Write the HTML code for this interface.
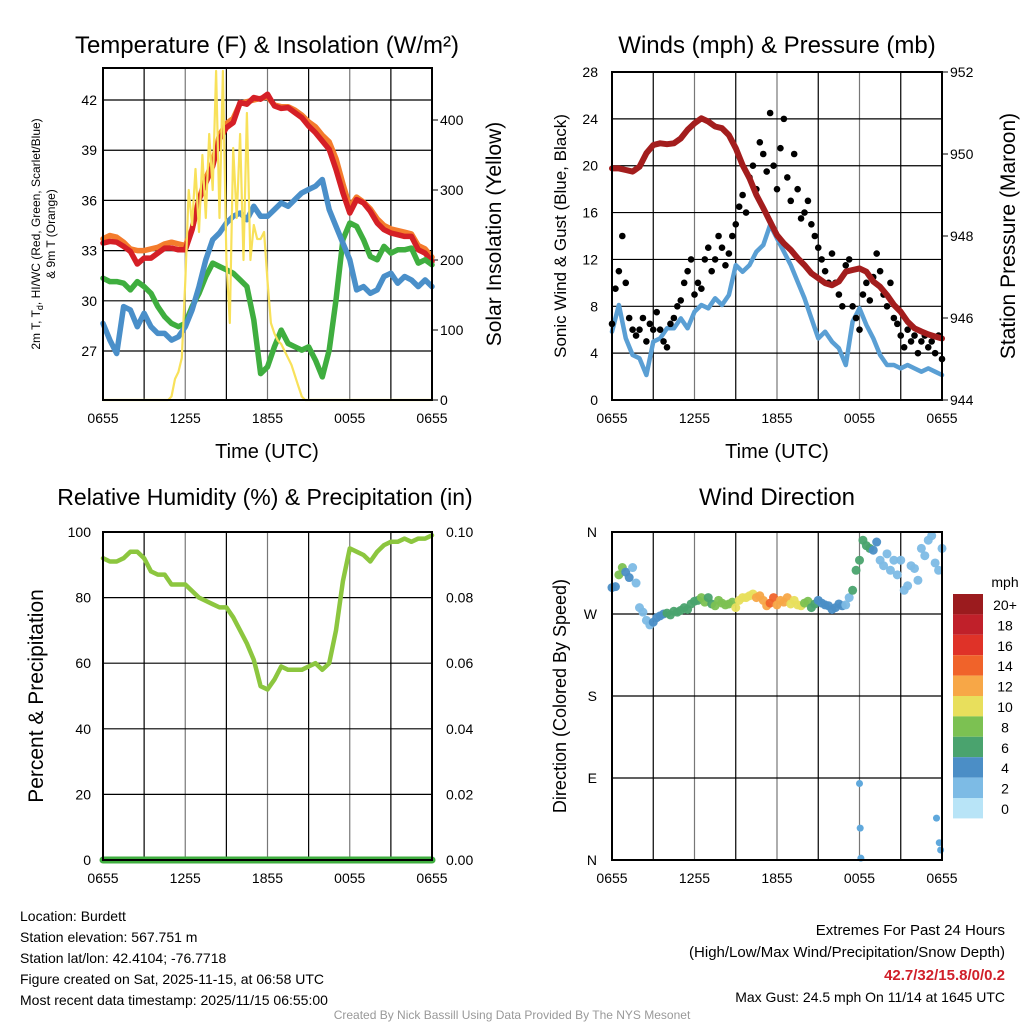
<!DOCTYPE html>
<html><head><meta charset="utf-8"><style>
body{margin:0;background:#fff;}
svg{display:block;font-family:"Liberation Sans",Arial,sans-serif;}
</style></head><body>
<svg id="c" width="1024" height="1024" viewBox="0 0 1024 1024" xmlns="http://www.w3.org/2000/svg"></svg>
<script>
const tickLabels = ['0655','1255','1855','0055','0655'];
const tempRed = [33.45,33.55,33.5,33.25,32.95,32.2,32.55,32.55,32.85,33.15,33.15,33.05,33.05,34.25,36.05,37.05,38.05,39.65,40.35,40.65,41.85,41.75,42.15,42.05,42.35,41.65,41.5,41.55,41.25,40.95,40.45,40.05,39.55,39.05,37.85,36.45,35.25,36.05,35.85,35.35,34.65,34.25,34.05,33.95,33.85,33.85,33.05,32.85,32.35];
const tempOrange = [33.7,33.9,33.8,33.5,33.1,33.0,33.0,33.1,33.2,33.4,33.5,33.4,33.3,34.3,36.1,37.3,38.3,39.9,40.6,40.9,41.8,41.9,42.0,42.1,42.2,41.7,41.6,41.6,41.4,41.1,40.7,40.4,39.9,39.5,38.5,37.0,35.6,36.2,35.9,35.5,34.9,34.5,34.3,34.2,34.1,34.0,33.3,33.1,32.6];
const dewGreen = [31.35,31.15,31.15,31.05,30.65,31.15,30.85,30.45,29.65,29.05,28.65,28.45,28.65,29.65,30.45,31.45,32.25,32.05,31.85,31.65,31.25,30.85,28.85,25.65,26.05,27.25,28.25,27.45,27.25,27.05,27.25,26.45,25.45,27.05,30.05,33.65,34.65,34.45,33.65,32.65,32.45,33.25,32.85,33.05,33.05,33.15,32.25,32.45,32.15];
const chillBlue = [28.65,27.65,26.85,29.65,29.45,28.45,29.25,28.45,28.05,28.05,27.65,27.85,28.45,29.45,30.85,32.45,33.65,34.05,34.65,35.05,35.25,34.85,35.65,35.05,35.05,35.45,35.85,35.65,36.05,36.45,36.65,36.85,37.25,35.45,34.45,33.45,32.45,30.65,30.85,30.45,30.65,31.45,31.65,31.05,31.45,31.25,30.85,31.25,30.85];
const solar = [0,0,0,0,0,0,0,0,0,0,0,0,0,0,0,0,0,0,0,0,5,30,40,60,170,300,250,330,240,350,260,380,300,470,260,470,200,110,360,260,380,200,410,200,250,230,230,240,170,110,95,85,80,70,60,50,35,20,5,0,0,0,0,0,0,0,0,0,0,0,0,0,0,0,0,0,0,0,0,0,0,0,0,0,0,0,0,0,0,0,0,0,0,0,0,0,0];
const pressure = [949.65,949.65,949.61,949.57,949.69,950.02,950.22,950.26,950.24,950.26,950.38,950.59,950.75,950.87,950.79,950.67,950.63,950.46,950.14,949.73,949.41,949.0,948.68,948.35,948.02,947.82,947.66,947.46,947.29,947.09,946.97,946.85,946.8,946.89,947.13,947.17,947.21,947.13,946.89,946.76,946.56,946.32,946.15,945.91,945.75,945.67,945.6,945.55,945.5];
const windSpd = [5.83,8.11,5.26,3.84,3.56,2.13,4.98,5.26,6.12,6.12,6.97,6.12,7.54,8.11,7.83,8.68,8.11,8.96,11.52,10.95,11.52,12.66,13.23,14.94,13.8,12.66,11.52,10.1,8.68,6.97,5.26,5.83,4.98,4.41,2.99,6.69,7.83,6.4,5.26,3.84,2.99,2.99,2.7,2.99,2.7,2.42,2.7,2.42,2.13];
const gust = [6.5,9.5,11,14,10,7,6,5.5,6,7,5,6.5,6,7.5,6,5,4.5,6.5,7,8,8.5,10,11,12,9,10,9.5,12,13,11,12,14,13,11.5,12.5,14,15,16.5,17.5,16,19,20,18,22,21,19.5,24.5,20,18,21.5,24,19,17,21,18,15.5,16,17,15,14,13,12,11,10,12.5,10,9,8,11.5,12,8,7,6,9,10,8.5,10.5,12.5,11,9,8,10,7,6.5,5.5,4.5,6,5,5.5,4,5,5.5,4.5,5,4,5.5,3.5];
const windDir = [299,300,313,321,316,310,321,304,277,272,263,258,261,266,268,270,271,269,273,272,274,277,275,281,284,285,288,283,288,281,279,285,282,280,281,283,277,285,288,288,290,292,288,290,285,279,282,288,280,285,283,288,281,285,280,279,282,284,277,281,285,282,280,279,275,277,281,279,280,288,296,318,329,351,345,342,340,349,329,323,336,318,329,313,329,296,301,323,320,307,342,334,351,356,326,318,342];
const extraHour = [18.0,18.05,18.1,23.6,23.8,23.9];
const extraDir = [84,35,2,46,19,11];
const rh = [92,91,91,92,94,94,92,88,87,87,84,84,84,82,80,79,78,77,77,74,70,66,61,53,52,55,59,58,58,58,59,60,58,60,70,85,95,94,93,91,94,96,97,97,98,97,98,98,99];
const precip = [0,0,0,0,0,0,0,0,0,0,0,0,0,0,0,0,0,0,0,0,0,0,0,0,0];
const tempTicks=[27,30,33,36,39,42], solarTicks=[0,100,200,300,400];
const windTicks=[0,4,8,12,16,20,24,28], presTicks=[944,946,948,950,952];
const rhTicks=[0,20,40,60,80,100], prTicks=['0.00','0.02','0.04','0.06','0.08','0.10'];
const dirLabels=['N','W','S','E','N'];
const cbLabels=['20+','18','16','14','12','10','8','6','4','2','0'];
const cbColors=['#9b1b1e','#c0202a','#df3228','#f0632a','#f7a747','#e8df5c','#7cc152','#4aa36e','#4b8ec6','#7dbbe5','#b8e4f7'];

const svg=document.getElementById('c');
const NS='http://www.w3.org/2000/svg';
function el(tag,attrs,parent){const e=document.createElementNS(NS,tag);for(const k in attrs)e.setAttribute(k,attrs[k]);(parent||svg).appendChild(e);return e;}
function txt(s,x,y,size,anchor,parent,extra){const t=el('text',Object.assign({x:x,y:y,'font-size':size,'text-anchor':anchor||'middle',fill:'#000'},extra||{}),parent);t.textContent=s;return t;}

function panel(name,x0,y0,x1,y1){
  const g=el('g',{});
  
  
  const P={g,x0,y0,x1,y1,
    x:h=>x0+(x1-x0)*h/24};
  for(let h=3;h<24;h+=3){const l=el('line',{x1:P.x(h),x2:P.x(h),y1:y0,y2:y1,stroke:(h%6==0)?'#777':'#000','stroke-width':1.2},g);
    }
  for(let i=0;i<5;i++){const t=txt(tickLabels[i],P.x(i*6),y1+23,14,'middle',g);
    }
  return P;
}
function hgrid(P,y){const l=el('line',{x1:P.x0,x2:P.x1,y1:y,y2:y,stroke:'#000','stroke-width':1.2},P.g);
  }
function frame(P){const r=el('rect',{x:P.x0,y:P.y0,width:P.x1-P.x0,height:P.y1-P.y0,fill:'none',stroke:'#000','stroke-width':2},P.g);
  }
function line(P,arr,step,yf,color,w,name){
  let d='';arr.forEach((v,i)=>{d+=(i?'L':'M')+P.x(i*step).toFixed(1)+','+yf(v).toFixed(1);});
  const p=el('path',{d:d,fill:'none',stroke:color,'stroke-width':w,'stroke-linejoin':'round','stroke-linecap':'round'},P.g);
  return p;}
function rot(s,x,y,size,parent,name){const t=txt(s,x,y,size,'middle',parent,{transform:`rotate(-90 ${x} ${y})`});
  return t;}
function title(s,x,y,name,size){const t=txt(s,x,y,size||24,'middle');return t;}

// ---------- Panel 1
const P1=panel('temperature-panel',103,68,432,400);
const ty=v=>400-(v-24.07)*16.73, sy=v=>400-v*0.7;
tempTicks.forEach(v=>{hgrid(P1,ty(v));const t=txt(v,97,ty(v)+5,14,'end',P1.g);});
solarTicks.forEach(v=>{const t=txt(v,440,sy(v)+5,14,'start',P1.g);
  el('line',{x1:432,x2:438,y1:sy(v),y2:sy(v),stroke:'#000'},P1.g);});
line(P1,tempOrange,0.5,ty,'#f47c2c',5.5,'temp-9m-line');
line(P1,tempRed,0.5,ty,'#d51f26',5.5,'temp-2m-line');
line(P1,dewGreen,0.5,ty,'#3fae3f',5.5,'dewpoint-line');
line(P1,chillBlue,0.5,ty,'#4a8fc9',5.5,'windchill-line');
line(P1,solar,0.25,sy,'#f8e15a',2.2,'solar-line');
frame(P1);
title('Temperature (F) & Insolation (W/m²)',267,53,'temperature-title',24);
{const t=txt('Time (UTC)',267,458,20,'middle');}
{const g=el('text',{x:40,y:234,'font-size':12,'text-anchor':'middle',transform:'rotate(-90 40 234)'});g.innerHTML='2m T, T<tspan font-size="9" dy="3">d</tspan><tspan dy="-3">, HI/WC (Red, Green, Scarlet/Blue)</tspan>';
 
 rot('& 9m T (Orange)',55,234,12,svg,'y-axis-title-line2');}
rot('Solar Insolation (Yellow)',501,234,21,svg,'y2-axis-title');

// ---------- Panel 2
const P2=panel('winds-panel',612,72,942,400);
const wy=v=>400-v*11.714, py=v=>400-(v-944)*41;
windTicks.forEach(v=>{hgrid(P2,wy(v));const t=txt(v,598,wy(v)+5,14,'end',P2.g);});
presTicks.forEach(v=>{const t=txt(v,950,py(v)+5,14,'start',P2.g);
  el('line',{x1:942,x2:948,y1:py(v),y2:py(v),stroke:'#000'},P2.g);});
line(P2,windSpd,0.5,wy,'#5a9fd4',4.5,'wind-speed-line');
gust.forEach((v,i)=>{const c=el('circle',{cx:P2.x(i*0.25),cy:wy(v),r:3.3,fill:'#000'},P2.g);
  
  });
line(P2,pressure,0.5,py,'#a31d1d',6,'pressure-line');
frame(P2);
title('Winds (mph) & Pressure (mb)',777,53,'winds-title',24);
{const t=txt('Time (UTC)',777,458,20,'middle');}
rot('Sonic Wind & Gust (Blue, Black)',566,236,17,svg,'y-axis-title');
rot('Station Pressure (Maroon)',1015,236,21,svg,'y2-axis-title');

// ---------- Panel 3
const P3=panel('humidity-panel',103,532,432,860);
const ry=v=>860-v*3.28, ppy=v=>860-v*3280;
rhTicks.forEach((v,i)=>{hgrid(P3,ry(v));const t=txt(v,91,ry(v)+5,14,'end',P3.g);
  const t2=txt(prTicks[i],446,ry(v)+5,14,'start',P3.g);});
line(P3,rh,0.5,ry,'#8cc63f',4.5,'humidity-line');
line(P3,precip,1,ppy,'#3fae3f',7,'precip-line');
frame(P3);
title('Relative Humidity (%) & Precipitation (in)',265,505,'humidity-title',23);
rot('Percent & Precipitation',43,696,21,svg,'y-axis-title');

// ---------- Panel 4
const P4=panel('wind-direction-panel',612,532,942,860);
const dy=v=>532+(360-v)/360*328;
dirLabels.forEach((s,i)=>{const y=532+i*82;if(i>0&&i<4)hgrid(P4,y);const t=txt(s,597,y+5,14,'end',P4.g);});
function spdColor(s){let k=Math.min(10,Math.floor(s/2));return cbColors[10-k];}
windDir.forEach((d,i)=>{const c=el('circle',{cx:P4.x(i*0.25),cy:dy(d),r:4.5,fill:spdColor(windSpd[Math.floor(i/2)]),opacity:0.95},P4.g);
  
  });
extraHour.forEach((h,i)=>{const c=el('circle',{cx:P4.x(h),cy:dy(extraDir[i]),r:3.5,fill:'#5fa8dc'},P4.g);
  
  });
frame(P4);
title('Wind Direction',777,505,'wind-direction-title',24);
rot('Direction (Colored By Speed)',566,696,18,svg,'y-axis-title');
{const g=el('g',{});
 cbColors.forEach((c,i)=>{const r=el('rect',{x:953,y:594+i*20.4,width:30,height:20.4,fill:c},g);
   const t=txt(cbLabels[i],1005,594+i*20.4+16,14,'middle',g);});
 const t=txt('mph',1005,587,14,'middle',g);}

// ---------- Footer text
const info=['Location: Burdett','Station elevation: 567.751 m','Station lat/lon: 42.4104; -76.7718','Figure created on Sat, 2025-11-15, at 06:58 UTC','Most recent data timestamp: 2025/11/15 06:55:00'];
info.forEach((s,i)=>{const t=txt(s,20,921+i*21,14,'start');});
{let t=txt('Extremes For Past 24 Hours',1005,935,15,'end');
 t=txt('(High/Low/Max Wind/Precipitation/Snow Depth)',1005,957,15,'end');
 t=txt('42.7/32/15.8/0/0.2',1005,980,15,'end',svg,{fill:'#d0202a','font-weight':'bold'});
 t=txt('Max Gust: 24.5 mph On 11/14 at 1645 UTC',1005,1002,14,'end');
 t=txt('Created By Nick Bassill Using Data Provided By The NYS Mesonet',512,1019,12,'middle',svg,{fill:'#999'});}
</script>
</body></html>
